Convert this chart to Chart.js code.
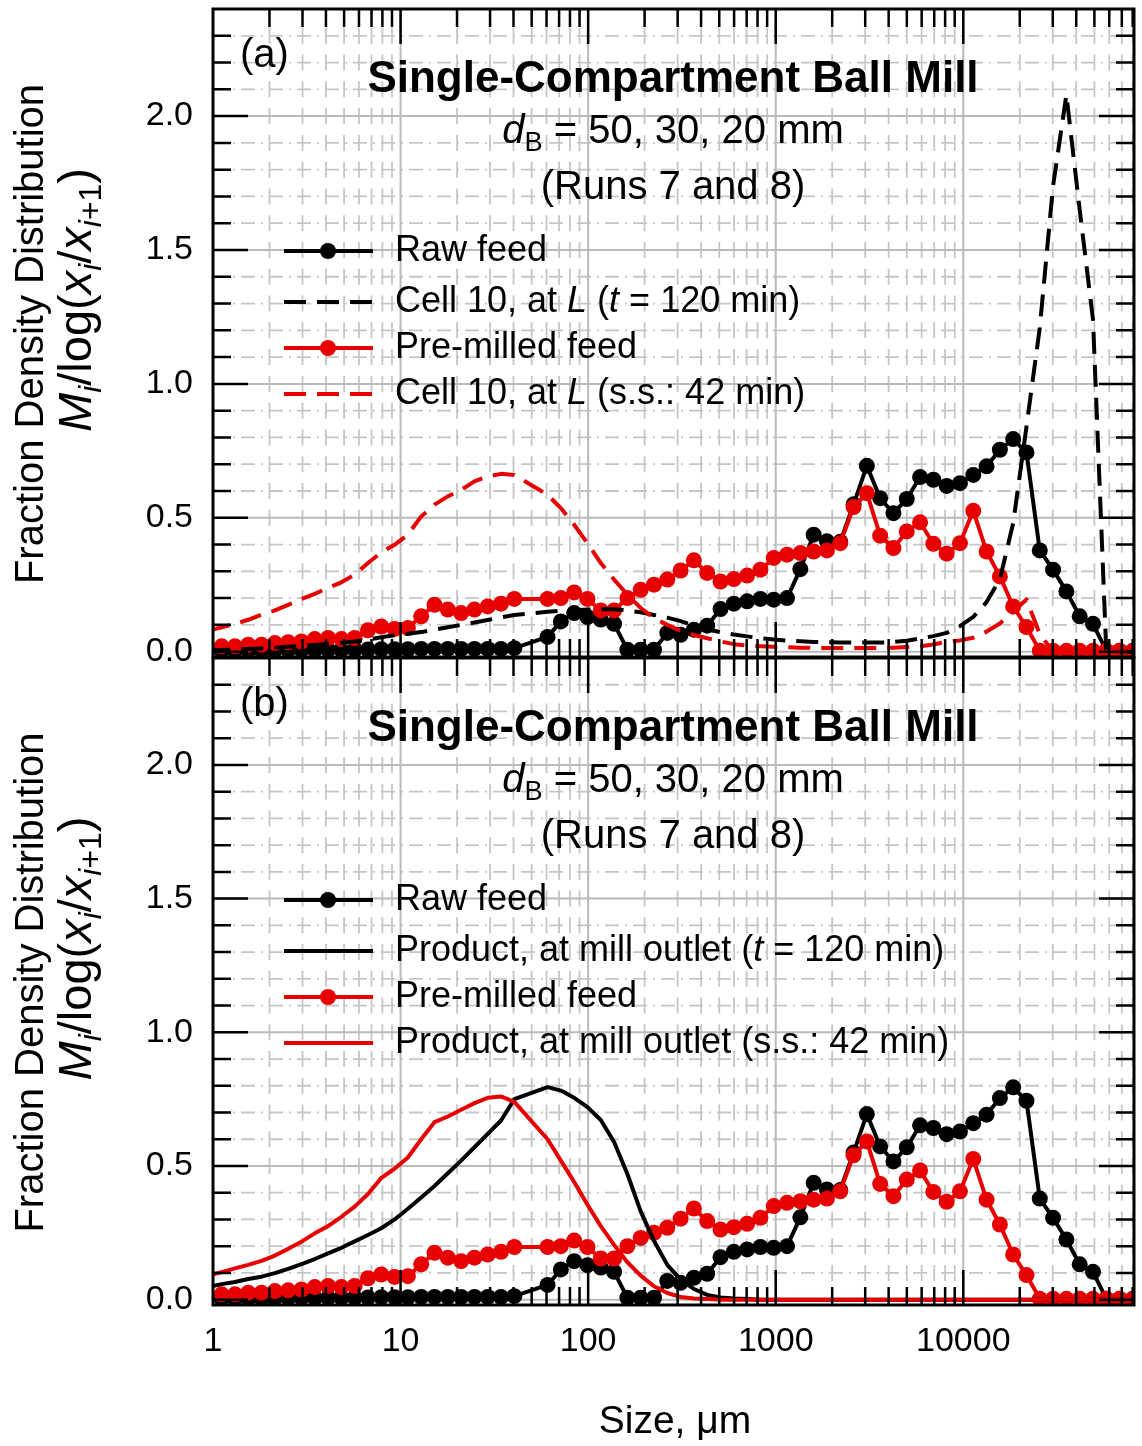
<!DOCTYPE html>
<html>
<head>
<meta charset="utf-8">
<script src="https://cdn.jsdelivr.net/npm/chart.js@4.4.0/dist/chart.umd.min.js"></script>
<style>
  body { margin: 0; background: #fff; }
  #wrap { position: relative; width: 1142px; height: 1446px; }
  canvas { position: absolute; left: 0; }
  #panelA { top: 0; }
  #panelB { top: 650px; }
</style>
</head>
<body>
<div id="wrap">
  <canvas id="panelA" width="1142" height="680"></canvas>
  <canvas id="panelB" width="1142" height="796"></canvas>
</div>
<script>
// size classes, um (fine classes, then coarse sieve classes)
const sizes = [1.112, 1.309, 1.541, 1.815, 2.137, 2.516, 2.962, 3.488, 4.107, 4.835, 5.693, 6.703,
  7.892, 9.292, 10.94, 12.88, 15.17, 17.86, 21.03, 24.76, 29.15, 34.32, 40.41,
  60.76, 71.54, 84.23, 99.17, 116.8, 137.5, 161.9, 190.6, 224.4, 264.2, 311.1, 366.3, 431.3,
  507.8, 597.9, 703.9, 828.8, 975.8, 1149, 1353, 1593, 1875, 2208, 2600, 3061, 3604, 4243,
  4996, 5882, 6925, 8154, 9600, 11303, 13308, 15669, 18448, 21721, 25574, 30111, 35452,
  41741, 49145, 57863, 68127, 80212];

// simulated curves start one class below the axis minimum
const curveSizes = [0.944].concat(sizes);

const rawFeed = [0.003, 0.003, 0.004, 0.004, 0.005, 0.005, 0.006, 0.006, 0.007, 0.007, 0.008, 0.008,
  0.009, 0.009, 0.009, 0.010, 0.010, 0.010, 0.010, 0.010, 0.010, 0.010, 0.013,
  0.055, 0.113, 0.144, 0.129, 0.120, 0.104, 0.007, 0.007, 0.007, 0.070, 0.063, 0.082, 0.097,
  0.159, 0.179, 0.188, 0.197, 0.194, 0.200, 0.308, 0.437, 0.412, 0.410, 0.550, 0.694, 0.573,
  0.517, 0.570, 0.652, 0.642, 0.619, 0.629, 0.660, 0.692, 0.754, 0.794, 0.744, 0.378, 0.306,
  0.225, 0.132, 0.104, 0.003, 0.003, 0.003];

const preMilled = [0.020, 0.020, 0.026, 0.026, 0.032, 0.035, 0.038, 0.047, 0.051, 0.047, 0.051, 0.080,
  0.094, 0.085, 0.088, 0.132, 0.175, 0.157, 0.144, 0.157, 0.169, 0.179, 0.197,
  0.197, 0.200, 0.221, 0.197, 0.154, 0.154, 0.200, 0.231, 0.250, 0.269, 0.303, 0.341, 0.294,
  0.262, 0.271, 0.284, 0.306, 0.350, 0.362, 0.368, 0.374, 0.378, 0.405, 0.540, 0.592, 0.433,
  0.387, 0.449, 0.483, 0.403, 0.366, 0.405, 0.526, 0.374, 0.281, 0.169, 0.092, 0.003, 0.003,
  0.003, 0.003, 0.003, 0.003, 0.003, 0.003];

// cell 10 at L, t = 120 min
const cell10T120 = [0.005, 0.006, 0.008, 0.010, 0.012, 0.015, 0.018, 0.021, 0.025, 0.029, 0.033, 0.038,
  0.045, 0.054, 0.061, 0.067, 0.073, 0.082, 0.091, 0.100, 0.109, 0.118, 0.128, 0.137,
  0.149, 0.153, 0.155, 0.157, 0.158, 0.158, 0.154, 0.147, 0.137, 0.127, 0.114, 0.097, 0.083,
  0.073, 0.064, 0.057, 0.050, 0.045, 0.041, 0.039, 0.036, 0.035, 0.034, 0.034, 0.034, 0.034,
  0.036, 0.041, 0.049, 0.058, 0.070, 0.095, 0.130, 0.185, 0.270, 0.480, 0.840, 1.210, 1.740,
  2.080, 1.650, 1.240, 0, 0, 0];

// cell 10 at L, steady state (42 min)
const cell10Steady = [0.078, 0.091, 0.104, 0.119, 0.138, 0.154, 0.175, 0.197, 0.216, 0.238, 0.259, 0.287,
  0.331, 0.371, 0.399, 0.437, 0.505, 0.549, 0.580, 0.604, 0.636, 0.654, 0.664, 0.660,
  0.586, 0.536, 0.474, 0.405, 0.331, 0.269, 0.213, 0.163, 0.126, 0.100, 0.078, 0.062, 0.050,
  0.038, 0.028, 0.023, 0.020, 0.018, 0.017, 0.015, 0.014, 0.014, 0.014, 0.014, 0.014, 0.014,
  0.015, 0.017, 0.020, 0.027, 0.037, 0.042, 0.052, 0.075, 0.105, 0.150, 0.195, 0.065, 0,
  0, 0, 0, 0, 0, 0];

// product at mill outlet, t = 120 min
const productT120 = [0.047, 0.058, 0.066, 0.077, 0.086, 0.099, 0.115, 0.133, 0.152, 0.173, 0.194, 0.218,
  0.242, 0.267, 0.300, 0.340, 0.382, 0.425, 0.473, 0.520, 0.570, 0.620, 0.670, 0.750,
  0.795, 0.782, 0.755, 0.720, 0.672, 0.590, 0.470, 0.330, 0.220, 0.130, 0.075, 0.040, 0.018,
  0.008, 0.004, 0.002, 0, 0, 0, 0, 0, 0, 0, 0, 0, 0, 0, 0, 0, 0, 0, 0, 0, 0, 0, 0, 0, 0, 0,
  0, 0, 0, 0, 0, 0];

// product at mill outlet, steady state (42 min)
const productSteady = [0.090, 0.103, 0.117, 0.130, 0.145, 0.165, 0.190, 0.217, 0.248, 0.275, 0.310, 0.348,
  0.395, 0.455, 0.490, 0.532, 0.600, 0.664, 0.685, 0.710, 0.735, 0.755, 0.760, 0.740,
  0.600, 0.520, 0.440, 0.355, 0.275, 0.205, 0.140, 0.090, 0.050, 0.025, 0.010, 0.004, 0.002,
  0, 0, 0, 0, 0, 0, 0, 0, 0, 0, 0, 0, 0, 0, 0, 0, 0, 0, 0, 0, 0, 0, 0, 0, 0, 0, 0, 0, 0, 0,
  0, 0];

const X_MIN = 1, X_MAX = 81300;
const Y_MIN = -0.02, Y_MAX = 2.4;
const xMajor = [1, 10, 100, 1000, 10000];
const xTickLabels = ['1', '10', '100', '1000', '10000'];
const yMajor = [0, 0.5, 1.0, 1.5, 2.0];
const yTickLabels = ['0.0', '0.5', '1.0', '1.5', '2.0'];

const FONT = "'Liberation Sans', Arial, Helvetica, sans-serif";
const BLACK = '#000000';
const RED = '#e80000';
const DASH = [22, 11];
const LINE_W = 4;
const DOT_R = 8;

Chart.defaults.font.family = FONT;
Chart.defaults.color = BLACK;

function fontOf(r, size) {
  return (r.i ? 'italic ' : '') + (r.b ? 'bold ' : '') + size + 'px ' + FONT;
}

// text made of runs: plain strings, or {t, i: italic, b: bold, s: subscript}
function drawRuns(ctx, runs, size, x, y, align) {
  const parts = runs.map(r => (typeof r === 'string' ? { t: r } : Object.assign({}, r)));
  let w = 0;
  parts.forEach(p => {
    p.size = p.s ? size * 0.68 : size;
    ctx.font = fontOf(p, p.size);
    p.w = ctx.measureText(p.t).width;
    w += p.w;
  });
  let cx = align === 'center' ? x - w / 2 : x;
  ctx.textAlign = 'left';
  ctx.textBaseline = 'middle';
  parts.forEach(p => {
    ctx.font = fontOf(p, p.size);
    ctx.fillText(p.t, cx, y + (p.s ? size * 0.3 : 0));
    cx += p.w;
  });
}

const panelText = {
  panelA: {
    tag: '(a)',
    legend: [
      { runs: ['Raw feed'], color: BLACK, dot: true },
      { runs: ['Cell 10, at ', { t: 'L', i: 1 }, ' (', { t: 't', i: 1 }, ' = 120 min)'], color: BLACK, dash: DASH },
      { runs: ['Pre-milled feed'], color: RED, dot: true },
      { runs: ['Cell 10, at ', { t: 'L', i: 1 }, ' (s.s.: 42 min)'], color: RED, dash: DASH }
    ]
  },
  panelB: {
    tag: '(b)',
    xTitle: 'Size, \u03bcm',
    legend: [
      { runs: ['Raw feed'], color: BLACK, dot: true },
      { runs: ['Product, at mill outlet (', { t: 't', i: 1 }, ' = 120 min)'], color: BLACK, dash: [] },
      { runs: ['Pre-milled feed'], color: RED, dot: true },
      { runs: ['Product, at mill outlet (s.s.: 42 min)'], color: RED, dash: [] }
    ]
  }
};

const legendRows = [242, 293, 339, 385];

const panelDecor = {
  id: 'panelDecor',
  beforeDatasetsDraw(chart) {
    const { ctx, chartArea: a, scales: { x, y } } = chart;
    const y0 = y.getPixelForValue(0);
    const yStep = Math.abs(y.getPixelForValue(0.1) - y0);
    ctx.save();
    ctx.beginPath();
    ctx.rect(a.left, a.top, a.width, a.height);
    ctx.clip();

    // minor grid
    ctx.strokeStyle = '#c6c6c6';
    ctx.lineWidth = 1.8;
    ctx.setLineDash([16, yStep - 16]);
    ctx.lineDashOffset = ((8 - (a.bottom - y0)) % yStep + yStep) % yStep;
    ctx.beginPath();
    for (let d = 1; d < X_MAX; d *= 10) {
      for (let m = 2; m < 10; m++) {
        const v = m * d;
        if (v >= X_MAX) continue;
        const px = x.getPixelForValue(v);
        ctx.moveTo(px, a.bottom);
        ctx.lineTo(px, a.top);
      }
    }
    ctx.stroke();
    ctx.setLineDash([14, 6, 2, 6]);
    ctx.lineDashOffset = 0;
    ctx.beginPath();
    for (let k = 1; k < 24; k++) {
      if (k % 5 === 0) continue;
      const py = y.getPixelForValue(k / 10);
      ctx.moveTo(a.left, py);
      ctx.lineTo(a.right, py);
    }
    ctx.stroke();

    // major grid
    ctx.setLineDash([]);
    ctx.strokeStyle = '#bababa';
    ctx.lineWidth = 2;
    ctx.beginPath();
    xMajor.forEach(v => {
      const px = x.getPixelForValue(v);
      ctx.moveTo(px, a.top);
      ctx.lineTo(px, a.bottom);
    });
    yMajor.forEach(v => {
      const py = y.getPixelForValue(v);
      ctx.moveTo(a.left, py);
      ctx.lineTo(a.right, py);
    });
    ctx.stroke();
    ctx.restore();
  },

  afterDatasetsDraw(chart) {
    const { ctx, chartArea: a, scales: { x, y } } = chart;
    const spec = panelText[chart.canvas.id];
    ctx.save();

    // inward ticks on all four sides
    ctx.strokeStyle = BLACK;
    ctx.lineWidth = 2.5;
    ctx.setLineDash([]);
    ctx.beginPath();
    for (let d = 1; d < X_MAX; d *= 10) {
      for (let m = 1; m < 10; m++) {
        const v = m * d;
        if (v <= X_MIN || v >= X_MAX) continue;
        const px = x.getPixelForValue(v);
        const len = m === 1 ? 35 : 18;
        ctx.moveTo(px, a.top);
        ctx.lineTo(px, a.top + len);
        ctx.moveTo(px, a.bottom);
        ctx.lineTo(px, a.bottom - len);
      }
    }
    for (let k = 0; k < 24; k++) {
      const py = y.getPixelForValue(k / 10);
      const len = k % 5 === 0 ? 35 : 18;
      ctx.moveTo(a.left, py);
      ctx.lineTo(a.left + len, py);
      ctx.moveTo(a.right, py);
      ctx.lineTo(a.right - len, py);
    }
    ctx.stroke();
    ctx.lineWidth = 3;
    ctx.strokeRect(a.left, a.top, a.right - a.left, a.bottom - a.top);

    // panel heading
    ctx.fillStyle = BLACK;
    const cx = 673;
    drawRuns(ctx, [spec.tag], 40, 240, a.top + 47, 'left');
    drawRuns(ctx, [{ t: 'Single-Compartment Ball Mill', b: 1 }], 44, cx, a.top + 71, 'center');
    drawRuns(ctx, [{ t: 'd', i: 1 }, { t: 'B', s: 1 }, ' = 50, 30, 20 mm'], 40, cx, a.top + 123, 'center');
    drawRuns(ctx, ['(Runs 7 and 8)'], 40, cx, a.top + 179, 'center');

    // legend
    spec.legend.forEach((item, i) => {
      const ly = a.top + legendRows[i];
      ctx.save();
      ctx.strokeStyle = item.color;
      ctx.fillStyle = item.color;
      ctx.lineWidth = LINE_W;
      ctx.setLineDash(item.dash || []);
      ctx.beginPath();
      ctx.moveTo(284, ly);
      ctx.lineTo(373, ly);
      ctx.stroke();
      if (item.dot) {
        ctx.beginPath();
        ctx.arc(328, ly, DOT_R, 0, Math.PI * 2);
        ctx.fill();
      }
      ctx.restore();
      drawRuns(ctx, item.runs, 36, 395, ly, 'left');
    });

    // y axis title, two lines
    const mid = (a.top + a.bottom) / 2;
    ctx.save();
    ctx.translate(32, mid + 1);
    ctx.rotate(-Math.PI / 2);
    drawRuns(ctx, ['Fraction Density Distribution'], 40, 0, 0, 'center');
    ctx.restore();
    ctx.save();
    ctx.translate(78, mid - 33);
    ctx.rotate(-Math.PI / 2);
    drawRuns(ctx, [{ t: 'M', i: 1 }, { t: 'i', i: 1, s: 1 }, '/log(', { t: 'x', i: 1 }, { t: 'i', i: 1, s: 1 },
      '/', { t: 'x', i: 1 }, { t: 'i', i: 1, s: 1 }, { t: '+1', s: 1 }, ')'], 47, 0, 0, 'center');
    ctx.restore();

    if (spec.xTitle) {
      drawRuns(ctx, [spec.xTitle], 39, 675, a.bottom + 117, 'center');
    }
    ctx.restore();
  }
};

const pts = (xs, ys) => xs.map((v, i) => ({ x: v, y: ys[i] }));

function markerSet(label, ys, color) {
  return {
    label, data: pts(sizes, ys), borderColor: color, backgroundColor: color,
    borderWidth: LINE_W, pointRadius: DOT_R, pointHoverRadius: DOT_R, pointBorderWidth: 0,
    pointBackgroundColor: color, tension: 0, clip: 0, borderJoinStyle: 'round'
  };
}

function curveSet(label, ys, color, dash) {
  return {
    label, data: pts(curveSizes, ys), borderColor: color, borderWidth: LINE_W,
    borderDash: dash, pointRadius: 0, tension: 0, clip: 0, borderJoinStyle: 'round'
  };
}

function makePanel(id, datasets, showX, padding) {
  return new Chart(document.getElementById(id), {
    type: 'line',
    data: { datasets },
    options: {
      responsive: false,
      animation: false,
      events: [],
      layout: { padding },
      plugins: { legend: { display: false }, tooltip: { enabled: false } },
      scales: {
        x: {
          type: 'logarithmic', min: X_MIN, max: X_MAX, display: showX,
          grid: { display: false, drawTicks: false }, border: { display: false },
          afterBuildTicks: s => { s.ticks = xMajor.map(v => ({ value: v })); },
          ticks: {
            autoSkip: false, maxRotation: 0, padding: 16, color: BLACK,
            font: { size: 34 },
            callback: v => xTickLabels[xMajor.indexOf(v)]
          },
          afterFit: s => { s.height = showX ? 141 : 0; s.paddingLeft = 0; s.paddingRight = 0; }
        },
        y: {
          type: 'linear', min: Y_MIN, max: Y_MAX,
          grid: { display: false, drawTicks: false }, border: { display: false },
          afterBuildTicks: s => { s.ticks = yMajor.map(v => ({ value: v })); },
          ticks: {
            padding: 20, color: BLACK, font: { size: 34 },
            callback: v => yTickLabels[yMajor.indexOf(v)]
          },
          afterFit: s => { s.width = 213; s.paddingTop = 0; s.paddingBottom = 0; }
        }
      }
    },
    plugins: [panelDecor]
  });
}

makePanel('panelA', [
  curveSet('Cell 10, at L (s.s.: 42 min)', cell10Steady, RED, DASH),
  curveSet('Cell 10, at L (t = 120 min)', cell10T120, BLACK, DASH),
  markerSet('Pre-milled feed', preMilled, RED),
  markerSet('Raw feed', rawFeed, BLACK)
], false, { left: 0, top: 9, right: 6, bottom: 23 });

makePanel('panelB', [
  curveSet('Product, at mill outlet (s.s.: 42 min)', productSteady, RED, []),
  curveSet('Product, at mill outlet (t = 120 min)', productT120, BLACK, []),
  markerSet('Pre-milled feed', preMilled, RED),
  markerSet('Raw feed', rawFeed, BLACK)
], true, { left: 0, top: 7, right: 6, bottom: 0 });
</script>
</body>
</html>
